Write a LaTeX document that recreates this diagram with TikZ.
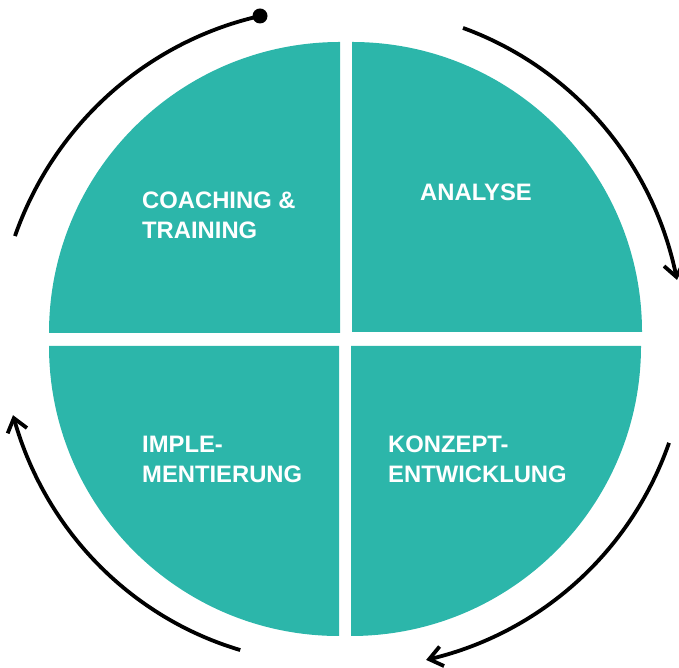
\documentclass[tikz,border=0pt]{standalone}
\usepackage{fontspec}
\setmainfont{Liberation Sans}
\usetikzlibrary{arrows.meta}
\definecolor{teal}{RGB}{44,182,170}
\begin{document}
\begin{tikzpicture}[x=1pt,y=1pt,
  quad/.style={fill=teal},
  lbl/.style={text=white,font=\fontsize{23.8}{30.5}\selectfont\bfseries,align=left,inner sep=0pt,anchor=base west},
  cyc/.style={line width=3.8pt},
  tip/.style={-{Straight Barb[length=13pt,width=20pt]}}]
\useasboundingbox (0,0) rectangle (679,668);
% quadrants
\fill[quad] (340,335) -- (49,335) arc[start angle=180,end angle=90,radius=291] -- cycle;
\fill[quad] (352,336) -- (352,626) arc[start angle=90,end angle=0,radius=290] -- cycle;
\fill[quad] (351,322) -- (641,322) arc[start angle=0,end angle=-90,radius=290] -- cycle;
\fill[quad] (339,322) -- (339,32) arc[start angle=-90,end angle=-180,radius=290] -- cycle;
% labels (base anchor = baseline of last line)
\node[lbl] (coach) at (142,429) {COACHING \&\\TRAINING};
\node[lbl] (anal) at (420,467) {ANALYSE};
\node[lbl] (konz) at (388,185) {KONZEPT-\\ENTWICKLUNG};
\node[lbl] (impl) at (142,185) {IMPLE-\\MENTIERUNG};
% cycle arcs
\draw[cyc] plot[domain=162.7:104.8,samples=90]
  ({345.5+(346.2+(334.1-346.2)*(\x-162.7)/(104.8-162.7))*cos(\x)},
   {329+(346.2+(334.1-346.2)*(\x-162.7)/(104.8-162.7))*sin(\x)});
\coordinate (dot) at (260,652);
\fill (dot) circle (7.5);
\draw[cyc,tip] plot[domain=69.3:10.1,samples=90]
  ({345.5+(332.5+(336.7-332.5)*(\x-69.3)/(10.1-69.3))*cos(\x)},
   {329+(332.5+(336.7-332.5)*(\x-69.3)/(10.1-69.3))*sin(\x)});
\draw[cyc,tip] plot[domain=-17.8:-75.9,samples=90]
  ({345.5+(339.8+(330.9-339.8)*(\x+17.8)/(-75.9+17.8))*cos(\x)},
   {329+(339.8+(330.9-339.8)*(\x+17.8)/(-75.9+17.8))*sin(\x)});
\draw[cyc,tip] plot[domain=-108.7:-167.1,samples=90]
  ({345.5+(328.4+(341.1-328.4)*(\x+108.7)/(-167.1+108.7))*cos(\x)},
   {329+(328.4+(341.1-328.4)*(\x+108.7)/(-167.1+108.7))*sin(\x)});
\end{tikzpicture}
\end{document}
